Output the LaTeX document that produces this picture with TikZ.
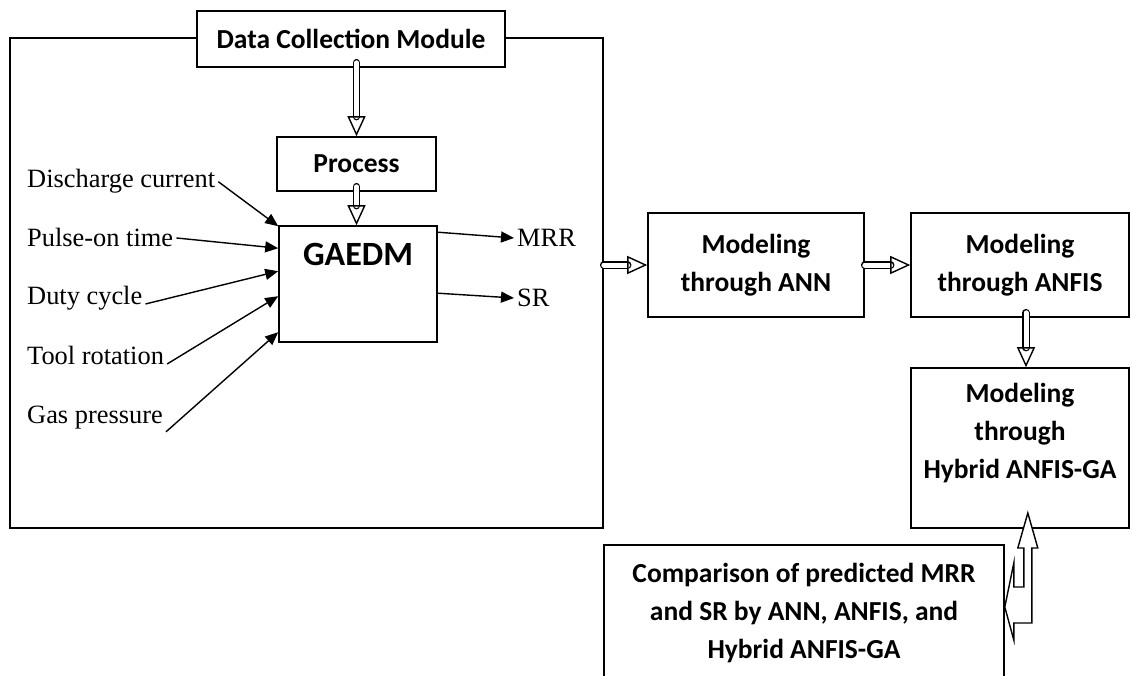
\documentclass[tikz,border=0pt]{standalone}
\usepackage{fontspec}
\setmainfont{Liberation Serif}
\newfontfamily\calibri{Carlito}
\usetikzlibrary{arrows.meta,positioning}

\begin{document}
\begin{tikzpicture}[
    x=1pt, y=-1pt,
    box/.style={draw=black, line width=1.6pt, fill=white, align=center,
      font=\calibri\bfseries\fontsize{27.5}{38}\selectfont, inner sep=0pt},
    param/.style={font=\fontsize{26.4}{30}\selectfont, inner sep=3pt},
    feed/.style={-{Triangle[length=13pt, width=11pt]}, line width=1.4pt},
    hollow/.style={double, double distance=5pt, line width=1.4pt, line cap=round,
      -{Triangle[open, length=20pt, width=18pt]}}
  ]
  \useasboundingbox (0,0) rectangle (1131,676);
  \clip (0,0) rectangle (1131,676);

  % left module
  \node[box, fill=none, minimum width=593pt, minimum height=490pt] (outer) at (306.5,283) {};
  \node[box, minimum width=308pt, minimum height=56pt] (dcm) at (351,39) {Data Collection Module};
  \node[box, minimum width=159pt, minimum height=54pt] (proc) at (356.5,164) {Process};
  \node[box, minimum width=158pt, minimum height=116pt] (gaedm) at (358,284) {};
  \node[font=\calibri\bfseries\fontsize{34}{40}\selectfont, inner sep=0pt,
    below=18pt of gaedm.north] (gaedmtxt) {GAEDM};

  \node[param, anchor=base west] (curr) at (24,188) {Discharge current};
  \node[param, anchor=base west] (pulse) at (24,247) {Pulse-on time};
  \node[param, anchor=base west] (duty) at (24,304) {Duty cycle};
  \node[param, anchor=base west] (tool) at (24,364) {Tool rotation};
  \node[param, anchor=base west] (gas) at (24,423) {Gas pressure};
  \node[param, anchor=west] (mrr) at (514,238) {MRR};
  \node[param, anchor=west] (sr) at (514,298) {SR};

  % models
  \node[box, minimum width=216pt, minimum height=104pt] (ann) at (756,265) {Modeling\\through ANN};
  \node[box, minimum width=218pt, minimum height=104pt] (anfis) at (1020,265) {Modeling\\through ANFIS};
  \node[box, minimum width=218pt, minimum height=160pt] (hyb) at (1020,448) {};
  \node[box, draw=none, fill=none] (hybtxt) at ([yshift=15pt]hyb.center) {Modeling\\through\\Hybrid ANFIS-GA};
  \node[box, minimum width=400pt, minimum height=136pt] (cmp) at (804,613)
    {Comparison of predicted MRR\\and SR by ANN, ANFIS, and\\Hybrid ANFIS-GA};

  % connectors
  \draw[hollow] ([yshift=5pt]dcm.south -| proc.north) -- (proc.north);
  \draw[hollow] ([yshift=5pt]proc.south) -- (proc.south |- gaedm.north);
  \draw[feed] (curr.east) -- ([yshift=-1pt]gaedm.north west);
  \draw[feed] (pulse.east) -- ([yshift=-23pt]gaedm.north west);
  \draw[feed] (duty.base east) -- ([yshift=-46pt]gaedm.north west);
  \draw[feed] (tool.base east) -- ([yshift=-71pt]gaedm.north west);
  \draw[feed] (gas.south east) -- ([yshift=-107pt]gaedm.north west);
  \draw[feed] ([yshift=-7pt]gaedm.north east) -- (mrr.west);
  \draw[feed] ([yshift=-68pt]gaedm.north east) -- (sr.west);
  \draw[hollow] (outer.east |- ann.west) -- (ann.west);
  \draw[hollow] (ann.east) -- (anfis.west);
  \draw[hollow] ([xshift=6pt, yshift=5pt]anfis.south) -- ([xshift=6pt]hyb.north);
  \coordinate (back) at ([yshift=6pt]cmp.east);
  \draw[line width=1.4pt, fill=white, line join=miter] (back) -- ++(9,-44) -- ++(0,24) -- ++(10,0)
    -- ++(0,-39) -- ++(-6,0) -- ++(10,-35) -- ++(10,35) -- ++(-6,0) -- ++(0,75)
    -- ++(-18,0) -- ++(0,17) -- cycle;
\end{tikzpicture}
\end{document}
